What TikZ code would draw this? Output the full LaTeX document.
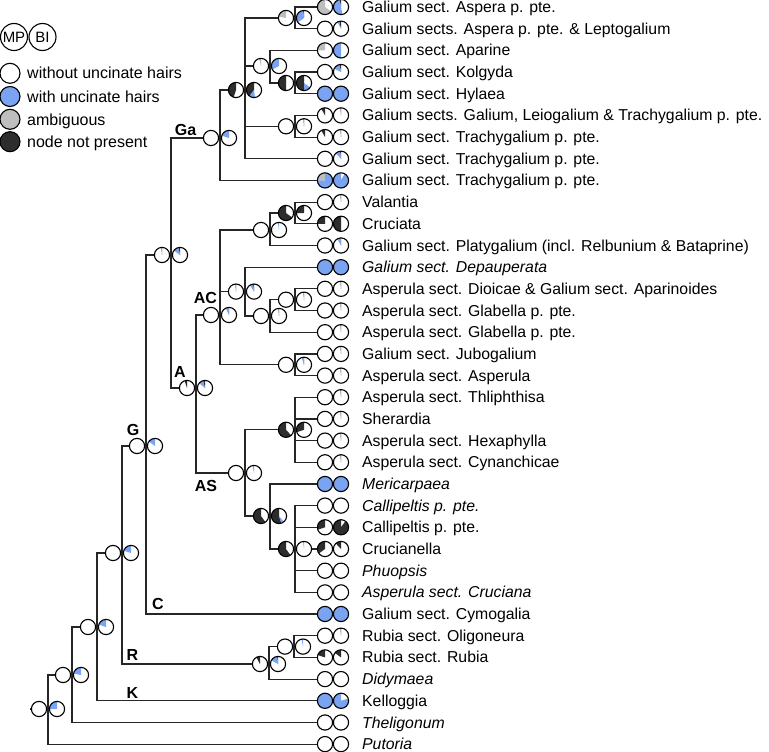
\documentclass[tikz,border=0pt]{standalone}
\usepackage{fontspec}
\setmainfont{Liberation Sans}
\definecolor{blu}{RGB}{122,163,242}
\definecolor{gry}{RGB}{190,190,190}
\definecolor{dk}{RGB}{45,45,45}
\def\pr{7.6pt}
\newcommand\pie[2]{%
  \fill[white] (#1) circle[radius=\pr];
  \gdef\pieacc{90}%
  \foreach \pc/\pf in {#2}{%
    \pgfmathsetmacro\pieend{\pieacc+360*\pf}%
    \fill[\pc] (#1) -- ++(\pieacc:\pr) arc[start angle=\pieacc, end angle=\pieend, radius=\pr] -- cycle;
    \global\let\pieacc\pieend
  }%
  \draw[ring] (#1) circle[radius=\pr];
}
\newcommand\npair[3]{\begin{scope}[shift={(#1)}, y=1pt]\pie{-9,0}{#2}\pie{9,0}{#3}\end{scope}}
\newcommand\tpair[3]{\begin{scope}[shift={(#1)}, y=1pt]\pie{0,0}{#2}\pie{16,0}{#3}\end{scope}}
\tikzset{
  ring/.style={draw=black, line width=1.1pt},
  br/.style={draw=black!85, line width=1.2pt},
  tiplab/.style={anchor=base west, inner sep=0pt, font=\fontsize{15.8}{18}\selectfont},
  clade/.style={anchor=center, inner sep=0pt, font=\fontsize{16}{18}\selectfont\bfseries},
  leglab/.style={anchor=base west, inner sep=0pt, font=\fontsize{16}{18}\selectfont},
  legring/.style={circle, draw, line width=1.1pt, minimum size=27pt, inner sep=0pt, font=\fontsize{15}{16}\selectfont},
  legdot/.style={circle, draw, line width=1.1pt, minimum size=20pt, inner sep=0pt},
}
\begin{document}
\begin{tikzpicture}[x=1pt,y=-1pt]
\useasboundingbox (0,0) rectangle (769,752);
% tips
\coordinate (t1) at (325,7.0);
\coordinate (t2) at (325,28.7);
\coordinate (t3) at (325,50.4);
\coordinate (t4) at (325,72.0);
\coordinate (t5) at (325,93.7);
\coordinate (t6) at (325,115.4);
\coordinate (t7) at (325,137.1);
\coordinate (t8) at (325,158.8);
\coordinate (t9) at (325,180.4);
\coordinate (t10) at (325,202.1);
\coordinate (t11) at (325,223.8);
\coordinate (t12) at (325,245.5);
\coordinate (t13) at (325,267.2);
\coordinate (t14) at (325,288.8);
\coordinate (t15) at (325,310.5);
\coordinate (t16) at (325,332.2);
\coordinate (t17) at (325,353.9);
\coordinate (t18) at (325,375.6);
\coordinate (t19) at (325,397.2);
\coordinate (t20) at (325,418.9);
\coordinate (t21) at (325,440.6);
\coordinate (t22) at (325,462.3);
\coordinate (t23) at (325,484.0);
\coordinate (t24) at (325,505.6);
\coordinate (t25) at (325,527.3);
\coordinate (t26) at (325,549.0);
\coordinate (t27) at (325,570.7);
\coordinate (t28) at (325,592.4);
\coordinate (t29) at (325,614.0);
\coordinate (t30) at (325,635.7);
\coordinate (t31) at (325,657.4);
\coordinate (t32) at (325,679.1);
\coordinate (t33) at (325,700.8);
\coordinate (t34) at (325,722.5);
\coordinate (t35) at (325,744.1);
% internal nodes
\coordinate (rs) at (30,709);
\coordinate (root) at (48,709);
\coordinate (n1) at (72,675);
\coordinate (n2) at (97,627);
\coordinate (n3) at (122,553);
\coordinate (G) at (146,446);
\coordinate (nGaA) at (171,255);
\coordinate (Ga) at (220,138);
\coordinate (nIn) at (245,90);
\coordinate (n12) at (295,18);
\coordinate (n345) at (270,66);
\coordinate (n45) at (295,83);
\coordinate (n67) at (295,126.3);
\coordinate (A) at (196,388);
\coordinate (AC) at (220,315);
\coordinate (n1012) at (270,230);
\coordinate (n1011) at (295,213);
\coordinate (n1316) at (245,291.6);
\coordinate (n1416) at (270,316);
\coordinate (n1415) at (295,299.7);
\coordinate (n1718) at (295,364.8);
\coordinate (AS) at (245,473);
\coordinate (n1922) at (295,429.8);
\coordinate (n2328) at (270,516);
\coordinate (n2428) at (295,549);
\coordinate (R) at (269,664);
\coordinate (nRub) at (294,646.6);
% branches
\draw[br] (rs) -- (root);
\draw[br] (root) |- (n1); \draw[br] (root) |- (t35);
\draw[br] (n1) |- (n2); \draw[br] (n1) |- (t34);
\draw[br] (n2) |- (n3); \draw[br] (n2) |- (t33);
\draw[br] (n3) |- (G); \draw[br] (n3) |- (R);
\draw[br] (R) |- (nRub); \draw[br] (R) |- (t32);
\draw[br] (nRub) |- (t30); \draw[br] (nRub) |- (t31);
\draw[br] (G) |- (nGaA); \draw[br] (G) |- (t29);
\draw[br] (nGaA) |- (Ga); \draw[br] (nGaA) |- (A);
\draw[br] (Ga) |- (nIn); \draw[br] (Ga) |- (t9);
\draw[br] (nIn) |- (n12); \draw[br] (nIn) |- (n345); \draw[br] (nIn) |- (n67); \draw[br] (nIn) |- (t8);
\draw[br] (n12) |- (t1); \draw[br] (n12) |- (t2);
\draw[br] (n345) |- (t3); \draw[br] (n345) |- (n45);
\draw[br] (n45) |- (t4); \draw[br] (n45) |- (t5);
\draw[br] (n67) |- (t6); \draw[br] (n67) |- (t7);
\draw[br] (A) |- (AC); \draw[br] (A) |- (AS);
\draw[br] (AC) |- (n1012); \draw[br] (AC) |- (n1316); \draw[br] (AC) |- (n1718);
\draw[br] (n1012) |- (n1011); \draw[br] (n1012) |- (t12);
\draw[br] (n1011) |- (t10); \draw[br] (n1011) |- (t11);
\draw[br] (n1316) |- (t13); \draw[br] (n1316) |- (n1416);
\draw[br] (n1416) |- (n1415); \draw[br] (n1416) |- (t16);
\draw[br] (n1415) |- (t14); \draw[br] (n1415) |- (t15);
\draw[br] (n1718) |- (t17); \draw[br] (n1718) |- (t18);
\draw[br] (AS) |- (n1922); \draw[br] (AS) |- (n2328);
\draw[br] (n1922) |- (t19); \draw[br] (n1922) |- (t20); \draw[br] (n1922) |- (t21); \draw[br] (n1922) |- (t22);
\draw[br] (n2328) |- (t23); \draw[br] (n2328) |- (n2428);
\draw[br] (n2428) |- (t24); \draw[br] (n2428) |- (t25); \draw[br] (n2428) |- (t26); \draw[br] (n2428) |- (t27); \draw[br] (n2428) |- (t28);
% internal pies
\npair{root}{white/0}{blu/0.25}
\npair{n1}{white/0}{blu/0.22}
\npair{n2}{white/0}{blu/0.2}
\npair{n3}{white/0}{blu/0.2}
\npair{G}{white/0}{blu/0.15}
\npair{nGaA}{dk/0.012}{dk/0.03,blu/0.12}
\npair{Ga}{white/0}{blu/0.2}
\npair{nIn}{dk/0.45}{dk/0.4,blu/0.12}
\npair{n12}{gry/0.22}{dk/0.02,blu/0.33}
\npair{n345}{gry/0.04}{blu/0.33}
\npair{n45}{dk/0.5}{dk/0.5,blu/0.15}
\npair{n67}{white/0}{dk/0.012}
\npair{A}{dk/0.05}{dk/0.04,blu/0.1}
\npair{AC}{white/0}{dk/0.01,blu/0.06}
\npair{n1012}{white/0}{blu/0.025}
\npair{n1011}{dk/0.65}{dk/0.25}
\npair{n1316}{dk/0.012}{dk/0.02,blu/0.07}
\npair{n1416}{white/0}{dk/0.012}
\npair{n1415}{white/0}{dk/0.012}
\npair{n1718}{white/0}{dk/0.01,blu/0.04}
\npair{AS}{white/0}{blu/0.03}
\npair{n1922}{dk/0.62}{dk/0.3}
\npair{n2328}{dk/0.6}{dk/0.55,blu/0.06}
\npair{n2428}{dk/0.6}{blu/0.02}
\npair{R}{dk/0.08}{dk/0.02,blu/0.15}
\npair{nRub}{white/0}{blu/0.03}
% tip pies
\tpair{t1}{gry/0.65}{dk/0.03,blu/0.5}
\tpair{t2}{white/0}{dk/0.04,blu/0.04}
\tpair{t3}{gry/0.25}{blu/0.5}
\tpair{t4}{white/0}{dk/0.03,blu/0.15}
\tpair{t5}{blu/1}{blu/1}
\tpair{t6}{dk/0.08}{dk/0.012}
\tpair{t7}{dk/0.08}{dk/0.012}
\tpair{t8}{white/0}{dk/0.02,blu/0.1}
\tpair{t9}{gry/0.25,blu/0.75}{blu/0.92}
\tpair{t10}{white/0}{dk/0.012}
\tpair{t11}{dk/0.25}{dk/0.5}
\tpair{t12}{white/0}{dk/0.01,blu/0.07}
\tpair{t13}{blu/1}{blu/1}
\tpair{t14}{white/0}{dk/0.012}
\tpair{t15}{white/0}{dk/0.012}
\tpair{t16}{white/0}{dk/0.012}
\tpair{t17}{white/0}{dk/0.012}
\tpair{t18}{white/0}{dk/0.012}
\tpair{t19}{white/0}{dk/0.012}
\tpair{t20}{white/0}{dk/0.012}
\tpair{t21}{white/0}{dk/0.012}
\tpair{t22}{white/0}{dk/0.012}
\tpair{t23}{blu/1}{blu/1}
\tpair{t24}{white/0}{white/0}
\tpair{t25}{dk/0.3}{dk/0.9}
\tpair{t26}{dk/0.35}{dk/0.12}
\tpair{t27}{white/0}{white/0}
\tpair{t28}{white/0}{white/0}
\tpair{t29}{blu/1}{dk/0.01,blu/0.99}
\tpair{t30}{white/0}{dk/0.012}
\tpair{t31}{dk/0.2}{dk/0.15}
\tpair{t32}{white/0}{white/0}
\tpair{t33}{blu/1}{blu/0.8}
\tpair{t34}{white/0}{white/0}
\tpair{t35}{white/0}{white/0}
% tip labels
\node[tiplab] (l1) at (362,12.5) {Galium sect. Aspera p. pte.};
\node[tiplab] (l2) at (362,34.2) {Galium sects. Aspera p. pte. \& Leptogalium};
\node[tiplab] (l3) at (362,55.9) {Galium sect. Aparine};
\node[tiplab] (l4) at (362,77.5) {Galium sect. Kolgyda};
\node[tiplab] (l5) at (362,99.2) {Galium sect. Hylaea};
\node[tiplab] (l6) at (362,120.9) {Galium sects. Galium, Leiogalium \& Trachygalium p. pte.};
\node[tiplab] (l7) at (362,142.6) {Galium sect. Trachygalium p. pte.};
\node[tiplab] (l8) at (362,164.3) {Galium sect. Trachygalium p. pte.};
\node[tiplab] (l9) at (362,185.9) {Galium sect. Trachygalium p. pte.};
\node[tiplab] (l10) at (362,207.6) {Valantia};
\node[tiplab] (l11) at (362,229.3) {Cruciata};
\node[tiplab] (l12) at (362,251.0) {Galium sect. Platygalium (incl. Relbunium \& Bataprine)};
\node[tiplab] (l13) at (362,272.7) {\itshape Galium sect. Depauperata};
\node[tiplab] (l14) at (362,294.3) {Asperula sect. Dioicae \& Galium sect. Aparinoides};
\node[tiplab] (l15) at (362,316.0) {Asperula sect. Glabella p. pte.};
\node[tiplab] (l16) at (362,337.7) {Asperula sect. Glabella p. pte.};
\node[tiplab] (l17) at (362,359.4) {Galium sect. Jubogalium};
\node[tiplab] (l18) at (362,381.1) {Asperula sect. Asperula};
\node[tiplab] (l19) at (362,402.7) {Asperula sect. Thliphthisa};
\node[tiplab] (l20) at (362,424.4) {Sherardia};
\node[tiplab] (l21) at (362,446.1) {Asperula sect. Hexaphylla};
\node[tiplab] (l22) at (362,467.8) {Asperula sect. Cynanchicae};
\node[tiplab] (l23) at (362,489.5) {\itshape Mericarpaea};
\node[tiplab] (l24) at (362,511.1) {\itshape Callipeltis p. pte.};
\node[tiplab] (l25) at (362,532.8) {Callipeltis p. pte.};
\node[tiplab] (l26) at (362,554.5) {Crucianella};
\node[tiplab] (l27) at (362,576.2) {\itshape Phuopsis};
\node[tiplab] (l28) at (362,597.9) {\itshape Asperula sect. Cruciana};
\node[tiplab] (l29) at (362,619.5) {Galium sect. Cymogalia};
\node[tiplab] (l30) at (362,641.2) {Rubia sect. Oligoneura};
\node[tiplab] (l31) at (362,662.9) {Rubia sect. Rubia};
\node[tiplab] (l32) at (362,684.6) {\itshape Didymaea};
\node[tiplab] (l33) at (362,706.3) {Kelloggia};
\node[tiplab] (l34) at (362,728.0) {\itshape Theligonum};
\node[tiplab] (l35) at (362,749.6) {\itshape Putoria};
% clade labels
\node[clade] (cGa) at (185.5,130) {Ga};
\node[clade] (cAC) at (205.5,298.3) {AC};
\node[clade] (cA) at (180,372) {A};
\node[clade] (cAS) at (206,485.5) {AS};
\node[clade] (cG) at (133,429.5) {G};
\node[clade] (cC) at (158,603.5) {C};
\node[clade] (cR) at (132.3,655) {R};
\node[clade] (cK) at (132.3,693) {K};
% legend
\node[legring] (lMP) at (14,37) {MP};
\node[legring] (lBI) at (42.5,37) {BI};
\node[legdot, fill=white] (k1) at (10,73.3) {};
\node[legdot, fill=blu] (k2) at (10,96.5) {};
\node[legdot, fill=gry] (k3) at (10,119.3) {};
\node[legdot, fill=dk] (k4) at (10,141.7) {};
\node[leglab] (kt1) at (27,79) {without uncinate hairs};
\node[leglab] (kt2) at (27,102.2) {with uncinate hairs};
\node[leglab] (kt3) at (27,125) {ambiguous};
\node[leglab] (kt4) at (27,147.4) {node not present};
\end{tikzpicture}
\end{document}
